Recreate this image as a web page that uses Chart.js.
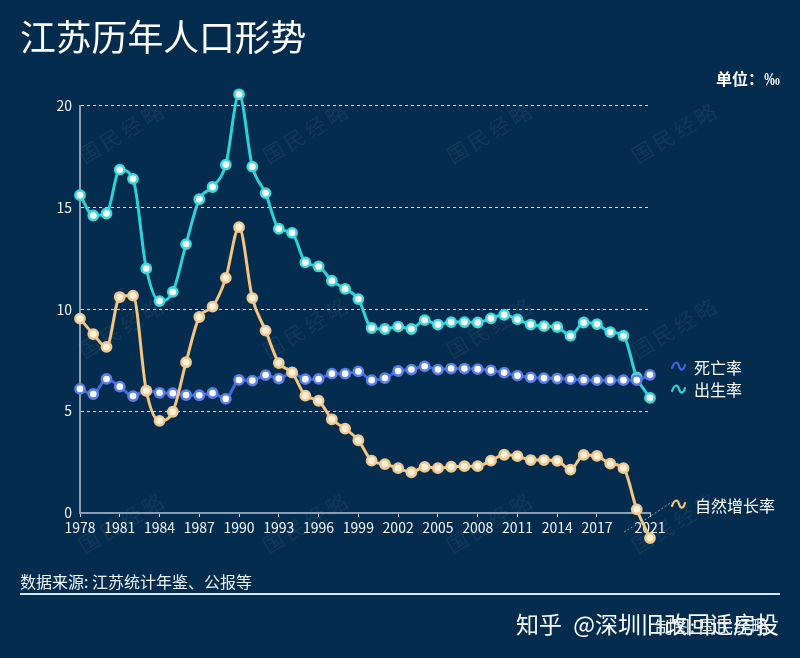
<!DOCTYPE html>
<html lang="zh">
<head>
<meta charset="utf-8">
<script src="https://cdn.jsdelivr.net/npm/chart.js@4"></script>
<style>
html,body{margin:0;padding:0;width:800px;height:658px;overflow:hidden;background:#032c4f;font-family:"Noto Sans CJK SC","Noto Sans",sans-serif;color:#fff}
.t{position:absolute;white-space:nowrap;line-height:1}
.wm{position:absolute;white-space:nowrap;line-height:1;font-size:21px;letter-spacing:3.5px;color:rgba(255,255,255,.07);transform:translate(-50%,-50%) rotate(-31deg);font-family:"Noto Sans CJK SC";}
canvas{position:absolute;left:0;top:0}
#rule{position:absolute;left:20px;top:593px;width:760px;height:2px;background:#d6e6f5}
</style>
</head>
<body>
<div id="marks"></div>
<canvas id="c" width="800" height="658"></canvas>
<div class="t" style="left:20px;top:18px;font-size:35.8px">江苏历年人口形势</div>
<div class="t" style="right:20px;top:70px;font-size:16px;font-weight:700">单位：‰</div>
<div class="t" style="left:694px;top:359px;font-size:16px">死亡率</div>
<div class="t" style="left:694px;top:381px;font-size:16px">出生率</div>
<div class="t" style="left:695px;top:497px;font-size:16px">自然增长率</div>
<div class="t" style="left:20px;top:573px;font-size:16px;color:#eef5fb">数据来源: 江苏统计年鉴、公报等</div>
<div id="rule"></div>
<div class="t" style="left:516px;top:612px;font-size:23px;word-spacing:6px">知乎 @深圳旧改回迁房投</div>
<div class="t" style="left:655px;top:617px;font-size:17.5px;color:#eef1f4">制图: 国民经略</div>
<script>
const years = [];
for (let y = 1978; y <= 2021; y++) years.push(String(y));
const tickYears = ['1978','1981','1984','1987','1990','1993','1996','1999','2002','2005','2008','2011','2014','2017','2021'];
const yTicks = [0,5,10,15,20];
const birthRate = [15.6,14.6,14.7,16.85,16.4,12.0,10.4,10.85,13.2,15.4,16.0,17.1,20.55,17.0,15.7,13.95,13.75,12.3,12.1,11.4,11.0,10.5,9.08,9.03,9.15,9.03,9.47,9.25,9.37,9.37,9.35,9.55,9.73,9.5,9.25,9.17,9.13,8.69,9.35,9.27,8.88,8.7,6.65,5.65];
const deathRate = [6.09,5.84,6.58,6.2,5.74,6.0,5.9,5.88,5.79,5.78,5.89,5.6,6.53,6.5,6.77,6.6,6.89,6.57,6.58,6.84,6.84,6.95,6.52,6.62,6.97,7.04,7.2,7.04,7.09,7.09,7.06,7.0,6.89,6.74,6.66,6.62,6.6,6.57,6.53,6.52,6.52,6.52,6.52,6.78];
const naturalRate = [9.54,8.78,8.15,10.6,10.67,6.0,4.52,4.97,7.4,9.62,10.13,11.54,14.03,10.55,8.95,7.36,6.9,5.76,5.51,4.6,4.14,3.57,2.57,2.4,2.2,2.0,2.26,2.2,2.27,2.3,2.3,2.57,2.86,2.79,2.6,2.6,2.56,2.13,2.85,2.8,2.42,2.2,0.18,-1.23];
const markText = '国民经略';

const marks = document.getElementById('marks');
[132,327,522].forEach(top => [122,306,490,675].forEach(left => {
  const d = document.createElement('div');
  d.className = 'wm'; d.textContent = markText;
  d.style.left = left + 'px'; d.style.top = top + 'px';
  marks.appendChild(d);
}));

const series = (label, data, color, ring, fill) => ({
  label, data, borderColor: color, backgroundColor: fill,
  borderWidth: 3, cubicInterpolationMode: 'monotone',
  pointRadius: 4.6, pointBorderWidth: 2.6,
  pointBackgroundColor: fill, pointBorderColor: ring, clip: false
});

/* Points whose values lie past the axis range (1990 birth rate, 2021 natural rate)
   are still drawn: the drawing area is widened only while the datasets are painted. */
let savedArea = null;
const overflow = {
  id: 'overflow',
  beforeDatasetsDraw(chart) {
    savedArea = chart.chartArea;
    chart.chartArea = Object.assign({}, savedArea, { top: 0, bottom: chart.height, left: 0, right: chart.width });
  },
  afterDatasetsDraw(chart) { chart.chartArea = savedArea; }
};

const decor = {
  id: 'decor',
  afterDraw(chart) {
    const c = chart.ctx;
    const wave = (x, y, col) => {
      c.save(); c.strokeStyle = col; c.lineWidth = 2.2; c.lineCap = 'round';
      c.beginPath(); c.moveTo(x, y + 2);
      c.bezierCurveTo(x + 3, y - 6, x + 6, y - 4, x + 7, y);
      c.bezierCurveTo(x + 8, y + 4, x + 11, y + 6, x + 13, y - 1);
      c.stroke(); c.restore();
    };
    wave(672, 366, '#3f68e0');
    wave(672, 389, '#2dd4d9');
    wave(672, 504, '#f5c77e');
    c.save(); c.strokeStyle = 'rgba(150,195,235,.8)'; c.lineWidth = 1; c.setLineDash([2,2]);
    c.beginPath(); c.moveTo(624, 532); c.lineTo(646, 519); c.lineTo(672, 502); c.stroke(); c.restore();
  }
};

new Chart(document.getElementById('c'), {
  type: 'line',
  data: { labels: years, datasets: [
    series('自然增长率', naturalRate, '#f3c57f', '#efca90', '#fdf1dc'),
    series('死亡率', deathRate, '#3f68e0', '#5b7fe6', '#ffffff'),
    series('出生率', birthRate, '#2bd3d8', '#3fd8dc', '#ffffff')
  ]},
  plugins: [overflow, decor],
  options: {
    responsive: false, animation: false, devicePixelRatio: 1,
    layout: { padding: { top: 105.5, right: 150, left: 0, bottom: 0 } },
    plugins: { legend: { display: false }, title: { display: false }, tooltip: { enabled: false } },
    scales: {
      x: {
        type: 'category', offset: false,
        afterFit(s) { s.height = 145; },
        border: { color: '#8a9db2', width: 2 },
        grid: { drawOnChartArea: false, tickLength: 4, tickWidth: 1,
          tickColor: ctx => tickYears.includes(years[ctx.index]) ? '#c5d2de' : 'rgba(0,0,0,0)' },
        ticks: { autoSkip: false, maxRotation: 0, minRotation: 0, padding: 2, color: '#f2f6fa',
          font: { family: '"Noto Sans CJK SC"', size: 14 },
          callback(v, i) { return tickYears.includes(years[i]) ? years[i] : ''; } }
      },
      y: {
        min: 0, max: 20,
        afterFit(s) { s.width = 80; },
        afterBuildTicks(s) { s.ticks = yTicks.map(value => ({ value })); },
        border: { color: '#8a9db2', width: 2, dash: [3, 3] },
        grid: { drawTicks: false, tickLength: 0, lineWidth: 1,
          color: ctx => ctx.tick.value === 0 ? 'rgba(0,0,0,0)' : 'rgba(255,255,255,.85)' },
        ticks: { padding: 8, color: '#f2f6fa', font: { family: '"Noto Sans CJK SC"', size: 14 } }
      }
    }
  }
});
</script>
</body>
</html>
